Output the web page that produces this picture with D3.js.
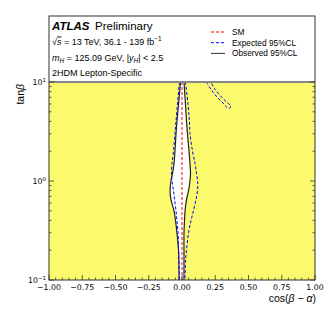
<!DOCTYPE html>
<html>
<head>
<meta charset="utf-8">
<script src="https://cdn.jsdelivr.net/npm/d3@7"></script>
<style>
  body { margin: 0; background: #fff; }
  svg { display: block; }
</style>
</head>
<body>
<div id="chart"></div>
<script>
// tanβ levels used for the contour reading
const tanLevels = [10, 6, 4, 3, 2, 1.5, 1.2, 1.0, 0.8, 0.65, 0.5, 0.4, 0.3, 0.2, 0.15, 0.1];

// observed 95% CL edges (cos(β-α) at each tanβ level)
const obsLeft  = [-0.011, -0.026, -0.038, -0.045, -0.053, -0.060, -0.071, -0.083, -0.090, -0.083, -0.060, -0.049, -0.038, -0.026, -0.023, -0.023];
const obsRight = [0.015, 0.026, 0.034, 0.041, 0.053, 0.060, 0.064, 0.060, 0.049, 0.034, 0.023, 0.019, 0.015, 0.015, 0.015, 0.015];

// expected 95% CL edges
const expLeft  = [-0.019, -0.034, -0.045, -0.053, -0.064, -0.075, -0.079, -0.075, -0.064, -0.056, -0.045, -0.038, -0.030, -0.026, -0.023, -0.019];
const expRight = [0.026, 0.045, 0.056, 0.060, 0.079, 0.098, 0.109, 0.117, 0.117, 0.105, 0.086, 0.068, 0.049, 0.034, 0.026, 0.023];

// expected contour island at high tanβ
const islandCos = [0.184, 0.226, 0.271, 0.308, 0.338, 0.357, 0.365, 0.331, 0.286, 0.244, 0.218];
const islandTan = [10, 8.11, 6.89, 6.14, 5.53, 5.40, 5.72, 6.35, 7.31, 8.60, 10];

const smCos = [0, 0];
const smTan = [0.1, 10];

const xTicks = [-1, -0.75, -0.5, -0.25, 0, 0.25, 0.5, 0.75, 1];
const yTicks = [0.1, 1, 10];
const yTickExp = ["\u22121", "0", "1"];

const textLines = ["ATLAS", "Preliminary", "2HDM Lepton-Specific"];
const legendLabels = ["SM", "Expected 95%CL", "Observed 95%CL"];
const legendColors = ["#ff0000", "#0000ff", "#333333"];
const legendDash = ["3,2", "3,2", null];

const W = 332, H = 332;
const left = 49, right = 315, frameTop = 16, bottom = 280, yTop = 82;

const svg = d3.select("#chart").append("svg")
    .attr("width", W)
    .attr("height", H);

const x = d3.scaleLinear().domain([-1, 1]).range([left, right]);
const y = d3.scaleLog().domain([0.1, 10]).range([bottom, yTop]);

// excluded region
svg.append("rect")
    .attr("x", x(-1)).attr("y", y(10))
    .attr("width", x(1) - x(-1)).attr("height", y(0.1) - y(10))
    .attr("fill", "#fafa6c");

// allowed (observed) region
const band = tanLevels.map((t, i) => [obsLeft[i], t])
    .concat(tanLevels.map((t, i) => [obsRight[i], t]).reverse());
svg.append("path")
    .attr("d", d3.line().x(d => x(d[0])).y(d => y(d[1])).curve(d3.curveCatmullRom)(band))
    .attr("fill", "#fff");

const line = d3.line().x(d => x(d[0])).y(d => y(d[1])).curve(d3.curveCatmullRom);

function drawCurve(cosArr, tanArr, color, dash, width) {
    const pts = cosArr.map((c, i) => [c, tanArr[i]]);
    svg.append("path")
        .attr("d", line(pts))
        .attr("fill", "none")
        .attr("stroke", color)
        .attr("stroke-width", width)
        .attr("stroke-dasharray", dash);
}

drawCurve(obsLeft, tanLevels, "#222", null, 1.2);
drawCurve(obsRight, tanLevels, "#222", null, 1.2);
drawCurve(expLeft, tanLevels, "#0000ff", "3,2", 1);
drawCurve(expRight, tanLevels, "#0000ff", "3,2", 1);
drawCurve(islandCos, islandTan, "#0000ff", "3,2", 1);
drawCurve(smCos, smTan, "#ff0000", "3,2", 1);

// gray boundary line at tanβ = 10
svg.append("line")
    .attr("x1", left).attr("x2", right)
    .attr("y1", y(10)).attr("y2", y(10))
    .attr("stroke", "#888").attr("stroke-width", 2);

// frame
svg.append("rect")
    .attr("x", left).attr("y", frameTop)
    .attr("width", right - left).attr("height", bottom - frameTop)
    .attr("fill", "none").attr("stroke", "#333").attr("stroke-width", 1);

// x ticks
const g = svg.append("g").attr("stroke", "#333").attr("stroke-width", 0.8);
d3.range(-1, 1.0001, 0.05).forEach(v => {
    const isMajor = Math.abs(v * 4 - Math.round(v * 4)) < 1e-6;
    g.append("line")
        .attr("x1", x(v)).attr("x2", x(v))
        .attr("y1", bottom).attr("y2", bottom - (isMajor ? 5 : 2.5));
});

svg.selectAll("text.xtick").data(xTicks).enter().append("text")
    .attr("class", "xtick")
    .attr("x", d => x(d)).attr("y", bottom + 10)
    .attr("text-anchor", "middle")
    .style("font", "7.8px 'DejaVu Sans'")
    .text(d => d3.format(".2f")(d).replace("-", "\u2212"));

// y ticks (log, with minors)
const yMinor = [];
[0.1, 1].forEach(dec => { for (let k = 2; k <= 9; k++) yMinor.push(dec * k); });
yMinor.forEach(v => {
    g.append("line").attr("x1", left).attr("x2", left + 2.5).attr("y1", y(v)).attr("y2", y(v));
    g.append("line").attr("x1", right).attr("x2", right - 2.5).attr("y1", y(v)).attr("y2", y(v));
});
yTicks.forEach(v => {
    g.append("line").attr("x1", left).attr("x2", left + 5).attr("y1", y(v)).attr("y2", y(v));
    g.append("line").attr("x1", right).attr("x2", right - 5).attr("y1", y(v)).attr("y2", y(v));
});

const yl = svg.selectAll("text.ytick").data(yTicks).enter().append("text")
    .attr("class", "ytick")
    .attr("x", left - 3).attr("y", d => y(d) + 3)
    .attr("text-anchor", "end")
    .style("font", "7.8px 'DejaVu Sans'");
yl.append("tspan").text("10");
yl.append("tspan").attr("dy", -3.5).style("font-size", "5.5px").text((d, i) => yTickExp[i]);

// axis labels
svg.append("text")
    .attr("x", right + 1).attr("y", 302)
    .attr("text-anchor", "end")
    .style("font", "10.5px 'Liberation Sans'")
    .html("cos(<tspan font-style='italic'>\u03b2</tspan> \u2212 <tspan font-style='italic'>\u03b1</tspan>)");

svg.append("text")
    .attr("transform", "translate(24,84) rotate(-90)")
    .attr("text-anchor", "end")
    .style("font", "10.5px 'Liberation Sans'")
    .html("tan<tspan font-style='italic'>\u03b2</tspan>");

// ATLAS label block
const tx = 52;
svg.append("text").attr("x", tx).attr("y", 29.5)
    .style("font", "italic bold 11.5px 'Liberation Sans'").text(textLines[0]);
svg.append("text").attr("x", tx + 43).attr("y", 29.5)
    .style("font", "11.5px 'Liberation Sans'").text(textLines[1]);

svg.append("text").attr("x", tx).attr("y", 44.5)
    .style("font", "9px 'Liberation Sans'")
    .html("\u221a<tspan text-decoration='overline' font-style='italic'>s</tspan> = 13 TeV, 36.1 - 139 fb<tspan dy='-3.5' font-size='6.5px'>\u22121</tspan>");

svg.append("text").attr("x", tx).attr("y", 60.5)
    .style("font", "9px 'Liberation Sans'")
    .html("<tspan font-style='italic'>m</tspan><tspan dy='2' font-size='6.5px' font-style='italic'>H</tspan><tspan dy='-2'> = 125.09 GeV, |</tspan><tspan font-style='italic'>y</tspan><tspan dy='2' font-size='6.5px' font-style='italic'>H</tspan><tspan dy='-2'>| &lt; 2.5</tspan>");

svg.append("text").attr("x", tx).attr("y", 75.5)
    .style("font", "9px 'Liberation Sans'").text(textLines[2]);

// legend
const lg = svg.append("g").attr("transform", "translate(211,32)");
legendLabels.forEach((lab, i) => {
    lg.append("line")
        .attr("x1", 0).attr("x2", 14)
        .attr("y1", i * 10.7).attr("y2", i * 10.7)
        .attr("stroke", legendColors[i]).attr("stroke-width", 1)
        .attr("stroke-dasharray", legendDash[i]);
    lg.append("text")
        .attr("x", 21).attr("y", i * 10.7 + 3)
        .style("font", "8.3px 'Liberation Sans'")
        .text(lab);
});
</script>
</body>
</html>
